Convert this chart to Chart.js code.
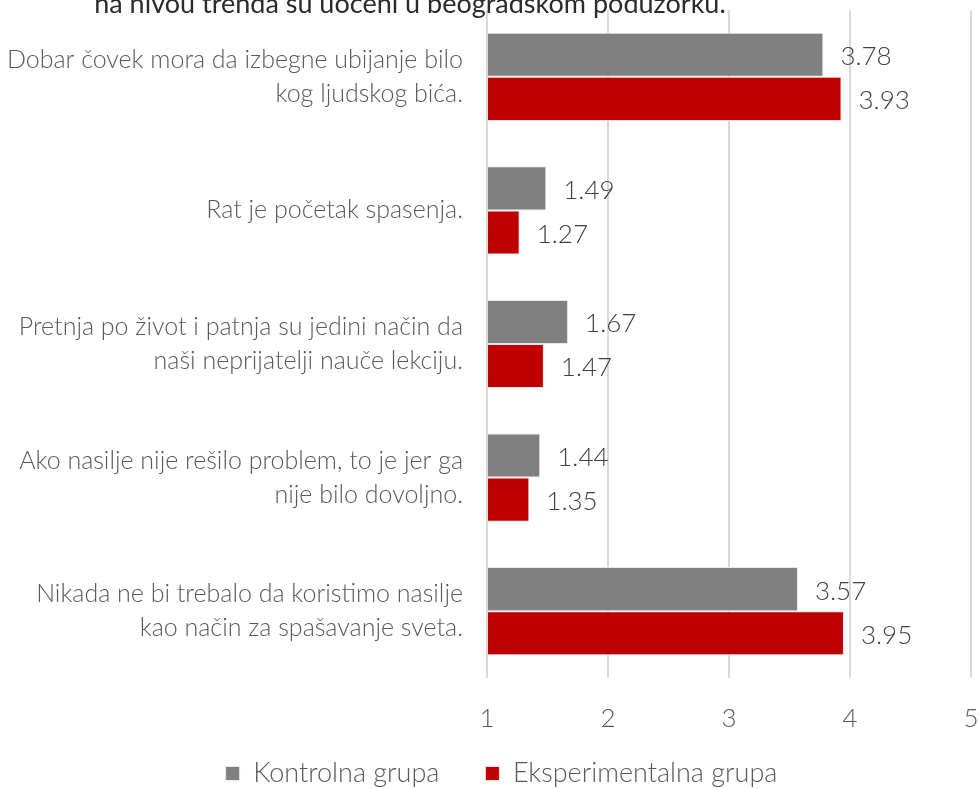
<!DOCTYPE html>
<html>
<head>
<meta charset="utf-8">
<script src="https://cdn.jsdelivr.net/npm/chart.js@4/dist/chart.umd.min.js"></script>
<style>
  html, body { margin: 0; padding: 0; background: #ffffff; }
  #wrap { width: 979px; height: 789px; }
</style>
</head>
<body>
<div id="wrap"><canvas id="grafico"></canvas></div>
<script>
// datos
const naslov = 'na nivou trenda su uočeni u beogradskom poduzorku.';
const tvrdnje = [
    ['Dobar čovek mora da izbegne ubijanje bilo', 'kog ljudskog bića.'],
    'Rat je početak spasenja.',
    ['Pretnja po život i patnja su jedini način da', 'naši neprijatelji nauče lekciju.'],
    ['Ako nasilje nije rešilo problem, to je jer ga', 'nije bilo dovoljno.'],
    ['Nikada ne bi trebalo da koristimo nasilje', 'kao način za spašavanje sveta.']
];
const kontrolna = [3.78, 1.49, 1.67, 1.44, 3.57];
const eksperimentalna = [3.93, 1.27, 1.47, 1.35, 3.95];
const skalaMin = 1;
const skalaMax = 5;

const FONT = 'Lato, "Open Sans", sans-serif';

// naslov (odsečen gore, kao na slici)
const naslovPlugin = {
    id: 'naslov',
    afterDraw(chart) {
        const ctx = chart.ctx;
        ctx.save();
        ctx.font = '400 27px ' + FONT;
        ctx.fillStyle = '#2b2b2b';
        ctx.textAlign = 'center';
        ctx.textBaseline = 'alphabetic';
        ctx.fillText(naslov, 410, 13);
        ctx.restore();
    }
};

// vrednosti pored stubića
const vrednostiPlugin = {
    id: 'vrednosti',
    afterDatasetsDraw(chart) {
        const ctx = chart.ctx;
        ctx.save();
        ctx.font = '300 26px ' + FONT;
        ctx.fillStyle = '#404040';
        ctx.textAlign = 'left';
        ctx.textBaseline = 'middle';
        chart.data.datasets.forEach(function (ds, i) {
            chart.getDatasetMeta(i).data.forEach(function (bar, j) {
                ctx.fillText(ds.data[j].toFixed(2), bar.x + 17, bar.y + 2);
            });
        });
        ctx.restore();
    }
};

// legenda malo više i desno (razmak između stavki ostaje 46px)
const legendaPlugin = {
    id: 'legendaPomeraj',
    afterLayout(chart) {
        if (chart.legend) {
            chart.legend.top -= 20;
            chart.legend.bottom -= 20;
            chart.legend.left += 16;
            chart.legend.right += 16;
        }
    }
};

// bez automatskog dodavanja margina oko ose
function bezMargina(scale) {
    scale.paddingTop = 0;
    scale.paddingBottom = 0;
    scale.paddingLeft = 0;
    scale.paddingRight = 0;
}

new Chart(document.getElementById('grafico'), {
    type: 'bar',
    data: {
        labels: tvrdnje,
        datasets: [{
            label: 'Kontrolna grupa',
            data: kontrolna,
            base: skalaMin,
            backgroundColor: '#808080',
            borderColor: '#e8e8e8',
            borderWidth: 1,
            categoryPercentage: 0.66,
            barPercentage: 1
        }, {
            label: 'Eksperimentalna grupa',
            data: eksperimentalna,
            base: skalaMin,
            backgroundColor: '#c00000',
            borderColor: '#f0e0e0',
            borderWidth: 1,
            categoryPercentage: 0.66,
            barPercentage: 1
        }]
    },
    options: {
        indexAxis: 'y',
        responsive: true,
        maintainAspectRatio: false,
        animation: false,
        layout: { padding: { top: 10, right: 8, left: 0, bottom: -28 } },
        scales: {
            x: {
                min: skalaMin,
                max: skalaMax,
                afterFit(scale) { bezMargina(scale); scale.height = 56; },
                ticks: {
                    stepSize: 1,
                    padding: 25,
                    color: '#595959',
                    font: { family: FONT, size: 26, weight: '300' }
                },
                grid: { color: '#d9d9d9', lineWidth: 2, drawTicks: false },
                border: { display: false }
            },
            y: {
                afterFit(scale) { bezMargina(scale); scale.width = 487; },
                ticks: {
                    padding: 16,
                    color: '#595959',
                    font: { family: FONT, size: 25, weight: '300', lineHeight: 1.36 }
                },
                grid: { display: false },
                border: { display: false }
            }
        },
        plugins: {
            legend: {
                position: 'bottom',
                labels: {
                    boxWidth: 14,
                    boxHeight: 14,
                    padding: 46,
                    color: '#595959',
                    font: { family: FONT, size: 27, weight: '300' }
                }
            },
            tooltip: { enabled: false }
        }
    },
    plugins: [naslovPlugin, vrednostiPlugin, legendaPlugin]
});
</script>
</body>
</html>
